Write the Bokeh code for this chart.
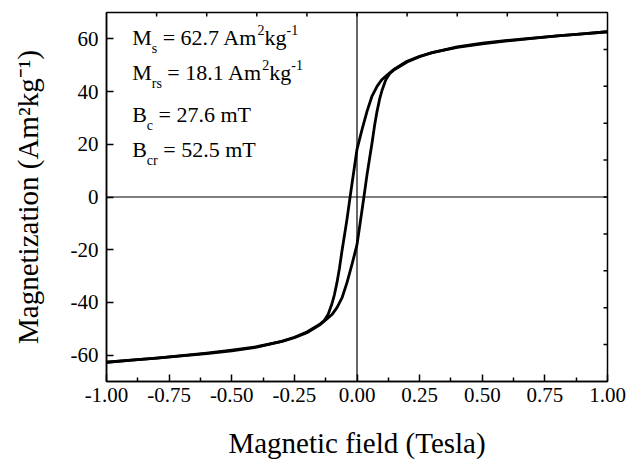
import math
from bokeh.plotting import figure
from bokeh.models import FixedTicker, Range1d, Span, Label, NumeralTickFormatter
from bokeh.embed import file_html
from bokeh.resources import INLINE

# ---------------- data ----------------
# descending-field branch (from +1 T to -1 T)
field_down = [1.00, 0.90, 0.80, 0.70, 0.60, 0.50, 0.40, 0.30, 0.25, 0.20, 0.15, 0.12,
              0.10, 0.08, 0.06, 0.04, 0.02, 0.00, -0.0276, -0.04, -0.05, -0.06, -0.07,
              -0.08, -0.09, -0.10, -0.115, -0.13, -0.15, -0.20, -0.25, -0.30, -0.40,
              -0.50, -0.60, -0.70, -0.80, -0.90, -1.00]
mag_down = [62.7, 61.9, 61.1, 60.2, 59.2, 58.1, 56.8, 54.8, 53.4, 51.5, 48.6, 46.3,
            44.6, 42.0, 38.3, 32.5, 25.6, 18.1, 0.0, -8.5, -14.5, -20.5, -27.0,
            -32.5, -37.0, -40.5, -44.5, -46.8, -48.4, -51.2, -53.2, -54.8, -57.0,
            -58.4, -59.4, -60.3, -61.1, -61.9, -62.7]

# ascending-field branch (from -1 T to +1 T)
field_up = [-1.00, -0.90, -0.80, -0.70, -0.60, -0.50, -0.40, -0.30, -0.25, -0.20, -0.15, -0.12,
            -0.10, -0.08, -0.06, -0.04, -0.02, 0.00, 0.0276, 0.04, 0.05, 0.06, 0.07,
            0.08, 0.09, 0.10, 0.115, 0.13, 0.15, 0.20, 0.25, 0.30, 0.40,
            0.50, 0.60, 0.70, 0.80, 0.90, 1.00]
mag_up = [-62.7, -61.9, -61.1, -60.2, -59.2, -58.1, -56.8, -54.8, -53.4, -51.5, -48.6, -46.3,
          -44.6, -42.0, -38.3, -32.5, -25.6, -18.1, 0.0, 8.5, 14.5, 20.5, 27.0,
          32.5, 37.0, 40.5, 44.5, 46.8, 48.4, 51.2, 53.2, 54.8, 57.0,
          58.4, 59.4, 60.3, 61.1, 61.9, 62.7]

x_major_ticks = [-1.0, -0.75, -0.5, -0.25, 0.0, 0.25, 0.5, 0.75, 1.0]
x_minor_ticks = [-0.875, -0.625, -0.375, -0.125, 0.125, 0.375, 0.625, 0.875]
y_major_ticks = [-60, -40, -20, 0, 20, 40, 60]
top_ticks = [-0.8, -0.6, -0.4, -0.2, 0.0, 0.2, 0.4, 0.6, 0.8]
right_ticks = [-56, -42, -28, -14, 0, 14, 28, 42, 56]

x_title = "Magnetic field (Tesla)"
y_title = "Magnetization (Am\u00b2kg\u207b\u00b9)"

# annotation lines: (piece, kind) with kind n = normal, b = subscript, p = superscript
annot_lines = [
    [("M", "n"), ("s", "b"), (" = 62.7 Am", "n"), ("2", "p"), ("kg", "n"), ("-1", "p")],
    [("M", "n"), ("rs", "b"), (" = 18.1 Am", "n"), ("2", "p"), ("kg", "n"), ("-1", "p")],
    [("B", "n"), ("c", "b"), (" = 27.6 mT", "n")],
    [("B", "n"), ("cr", "b"), (" = 52.5 mT", "n")],
]
annot_y = [60.5, 47.2, 31.2, 18.1]
annot_x = -0.8975

# ---------------- figure ----------------
FONT = "Liberation Serif"
X0, X1, Y0, Y1 = -1, 1, -70, 70
p = figure(width=630, height=461, x_range=Range1d(X0, X1), y_range=Range1d(Y0, Y1),
           output_backend="svg", toolbar_location=None,
           min_border_left=106, min_border_right=23, min_border_top=12, min_border_bottom=78)
p.grid.visible = False
p.outline_line_color = "black"
p.outline_line_width = 1.5
p.background_fill_color = "white"
p.border_fill_color = "white"

xa = p.xaxis[0]
xa.ticker = FixedTicker(ticks=x_major_ticks, minor_ticks=x_minor_ticks)
xa.formatter = NumeralTickFormatter(format="0.00")
ya = p.yaxis[0]
ya.ticker = FixedTicker(ticks=y_major_ticks, minor_ticks=[])
ya.formatter = NumeralTickFormatter(format="0")

for ax in (xa, ya):
    ax.axis_line_width = 1.5
    ax.axis_line_color = "black"
    ax.major_tick_in = 7
    ax.major_tick_out = 0
    ax.minor_tick_in = 4
    ax.minor_tick_out = 0
    ax.major_tick_line_width = 1.5
    ax.minor_tick_line_width = 1.5
    ax.major_label_text_font = FONT
    ax.major_label_text_font_size = "21px"
    ax.major_label_text_color = "black"
    ax.axis_label_text_font = FONT
    ax.axis_label_text_font_size = "29px"
    ax.axis_label_text_font_style = "normal"
    ax.axis_label_text_color = "black"

xa.axis_label = x_title
xa.major_label_standoff = 6
xa.axis_label_standoff = 22
ya.axis_label = y_title
ya.major_label_standoff = 8
ya.axis_label_standoff = 24

# small inward ticks on the top and right frame edges (half of each dash is clipped by the frame)
p.scatter(top_ticks, [Y1] * len(top_ticks), marker="dash", size=8, angle=math.pi / 2,
          line_color="black", line_width=1.5)
p.scatter([X1] * len(right_ticks), right_ticks, marker="dash", size=8,
          line_color="black", line_width=1.5)

p.add_layout(Span(location=0, dimension="width", line_color="black", line_width=1.2))
p.add_layout(Span(location=0, dimension="height", line_color="black", line_width=1.2))

p.line(field_down, mag_down, line_color="black", line_width=2.8, line_join="round")
p.line(field_up, mag_up, line_color="black", line_width=2.8, line_join="round")

# annotations built from pieces (leading spaces become offsets, since SVG collapses them)
W = {' ': 250, '=': 564, '.': 250, '-': 333, 'A': 722, 'B': 667, 'M': 889, 'T': 611,
     'c': 444, 'g': 500, 'k': 500, 'm': 778, 'r': 333, 's': 389}
for d in "0123456789":
    W[d] = 500

def text_width(s, size):
    return sum(W.get(ch, 500) for ch in s) * size / 1000.0

MAIN, SMALL = 22, 14
for pieces, yb in zip(annot_lines, annot_y):
    off = 0.0
    for txt, kind in pieces:
        size = MAIN if kind == "n" else SMALL
        dy = 0 if kind == "n" else (-11 if kind == "b" else 8)
        stripped = txt.lstrip(" ")
        lead = text_width(txt[:len(txt) - len(stripped)], size)
        p.add_layout(Label(x=annot_x, y=yb, x_offset=off + lead, y_offset=dy, text=stripped,
                           text_font=FONT, text_font_size=f"{size}px",
                           text_color="black", text_baseline="alphabetic",
                           text_align="left"))
        off += text_width(txt, size)

open("out.html", "w").write(file_html(p, INLINE))
